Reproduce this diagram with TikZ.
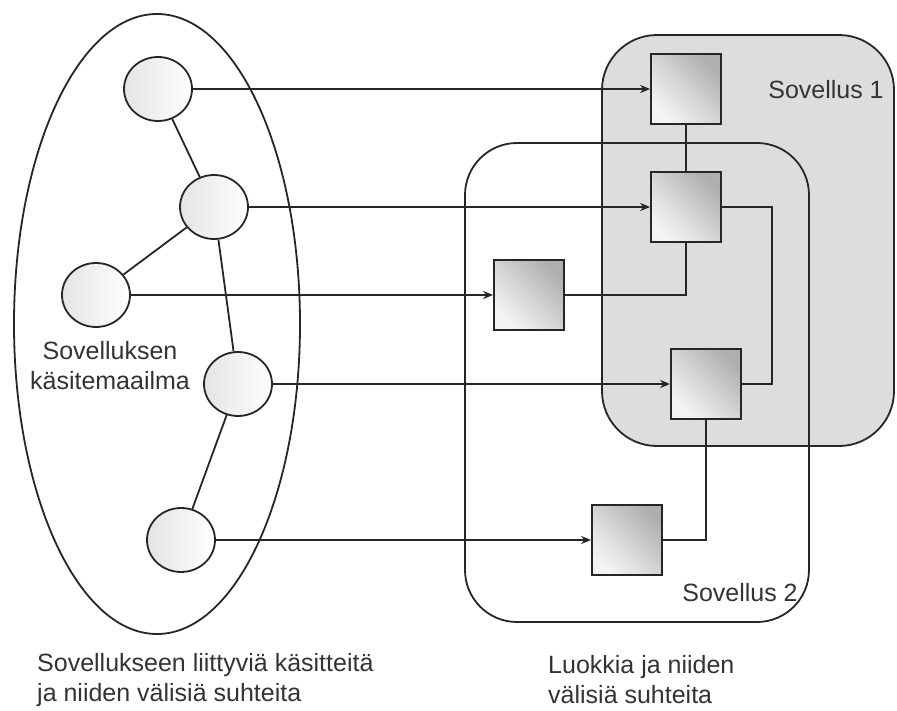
\documentclass[tikz,border=0pt]{standalone}
\usepackage{fontspec}
\setmainfont{Liberation Sans}
\usetikzlibrary{shapes.geometric,arrows.meta}

\definecolor{qdunkel}{RGB}{175,175,175}
\definecolor{qmitte}{RGB}{212,212,212}
\definecolor{qhell}{RGB}{244,244,244}
\definecolor{khell}{RGB}{228,228,228}
\definecolor{flaeche}{RGB}{221,221,221}

\tikzset{
	linie/.style={line width=1.8pt, black!85},
	kreis/.style={ellipse, draw, line width=1.8pt, black!85, minimum width=68pt, minimum height=64pt, inner sep=0pt, left color=khell, right color=white},
	kasten/.style={rectangle, draw, line width=1.8pt, black!85, minimum size=70pt, inner sep=0pt, top color=qdunkel, bottom color=qhell, middle color=qmitte, shading angle=-45},
	pfeil/.style={linie, -{Stealth[length=10pt,width=8pt]}},
	schrift/.style={font=\fontsize{25}{30}\selectfont, text=black!80, inner sep=0pt}
}

\begin{document}
\begin{tikzpicture}[x=1pt, y=-1pt]
		\useasboundingbox (0,0) rectangle (897,711);
		
		% Sovellus 1 und 2
		\node[draw, linie, rounded corners=55pt, fill=flaeche, minimum width=292pt, minimum height=411pt, inner sep=0pt] (sov1) at (748,240.5) {};
		\node[draw, linie, rounded corners=52pt, minimum width=344pt, minimum height=479pt, inner sep=0pt] (sov2) at (637,382.5) {};
		\node[schrift] (sov1txt) at (826,90) {Sovellus 1};
		\node[schrift] (sov2txt) at (740,593) {Sovellus 2};
		
		% Käsitemaailma
		\node[ellipse, draw, linie, minimum width=286pt, minimum height=620pt, inner sep=0pt] (maailma) at (157,324) {};
		\node[schrift, align=center] (maailmatxt) at (110,366) {Sovelluksen\\käsitemaailma};
		
		% Kreise und Kästen
		\foreach \n/\kx/\qx/\y in {
			1/158/686/89,
			2/214/686/207,
			3/96/529/295,
			4/238/706/384,
			5/181/627/540
		} {
			\node[kreis] (k\n) at (\kx,\y) {};
			\node[kasten] (q\n) at (\qx,\y) {};
		}
		
		% Verbindungen zwischen Kreisen
		\draw[linie] (k1) -- (k2);
		\draw[linie] (k2) -- (k3);
		\draw[linie] (k2) -- (k4);
		\draw[linie] (k4) -- (k5);
		
		% Pfeile Kreis -> Kasten
		\foreach \n in {1,...,5}
			\draw[pfeil] (k\n) -- (q\n);
		
		% Verbindungen zwischen Kästen
		\draw[linie] (q1) -- (q2);
		\draw[linie] (q2.east) -- ++(50,0) |- (q4.east);
		\draw[linie] (q3.east) -| (q2.south);
		\draw[linie] (q4.south) |- (q5.east);
		
		% Beschriftung unten
		\node[schrift, align=left, anchor=west] (linkstxt) at (37,680) {Sovellukseen liittyviä käsitteitä\\ja niiden välisiä suhteita};
		\node[schrift, align=left, anchor=west] (rechtstxt) at (548,680) {Luokkia ja niiden\\välisiä suhteita};
	\end{tikzpicture}
\end{document}
